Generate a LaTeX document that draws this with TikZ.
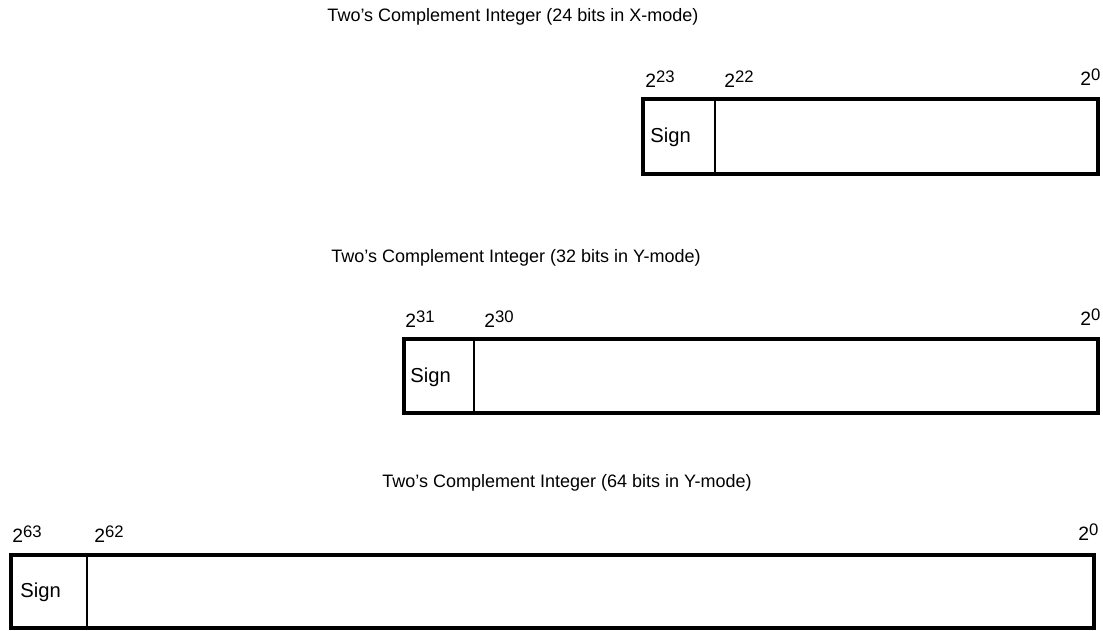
\documentclass[tikz,border=0pt]{standalone}
\usepackage{fontspec}
\setmainfont{Liberation Sans}
\usepackage{tikz}
\usetikzlibrary{positioning}

\newcommand{\bitpow}[1]{2\raisebox{0.55ex}{\fontsize{9.5}{11}\selectfont #1}}

\tikzset{
  regbox/.style={draw=black, line width=2.3pt, fill=white},
  signbar/.style={draw=black, line width=1.7pt},
  title/.style={font=\fontsize{10.25}{12}\selectfont, anchor=center},
  bitlbl/.style={font=\fontsize{11}{13}\selectfont, anchor=base west, inner sep=0pt},
  signlbl/.style={font=\fontsize{11.5}{13}\selectfont, anchor=west, inner sep=0pt}
}

\begin{document}
\begin{tikzpicture}[x=0.02cm, y=-0.02cm]
  \useasboundingbox (0,0) rectangle (1103,631);

  %% X-mode, 24 bits
  \node[title] (t24) at (513,17) {Two's Complement Integer (24 bits in X-mode)};
  \draw[regbox] (643,99) rectangle (1098,174);
  \draw[signbar] (715,99) -- (715,174);
  \node[bitlbl] (b23) at (645,88) {\bitpow{23}};
  \node[bitlbl] (b22) at (724,88) {\bitpow{22}};
  \node[bitlbl] (b0x) at (1080,86) {\bitpow{0}};
  \node[signlbl] (s24) at (650,137) {Sign};

  %% Y-mode, 32 bits
  \node[title] (t32) at (516,258) {Two's Complement Integer (32 bits in Y-mode)};
  \draw[regbox] (404,339) rectangle (1098,413);
  \draw[signbar] (474,339) -- (474,413);
  \node[bitlbl] (b31) at (405,328) {\bitpow{31}};
  \node[bitlbl] (b30) at (484,328) {\bitpow{30}};
  \node[bitlbl] (b0y) at (1080,326) {\bitpow{0}};
  \node[signlbl] (s32) at (410,377) {Sign};

  %% Y-mode, 64 bits
  \node[title] (t64) at (567,483) {Two's Complement Integer (64 bits in Y-mode)};
  \draw[regbox] (11,555) rectangle (1094,628);
  \draw[signbar] (87,555) -- (87,628);
  \node[bitlbl] (b63) at (12,543) {\bitpow{63}};
  \node[bitlbl] (b62) at (94,543) {\bitpow{62}};
  \node[bitlbl] (b0z) at (1078,541) {\bitpow{0}};
  \node[signlbl] (s64) at (20,592) {Sign};
\end{tikzpicture}
\end{document}
